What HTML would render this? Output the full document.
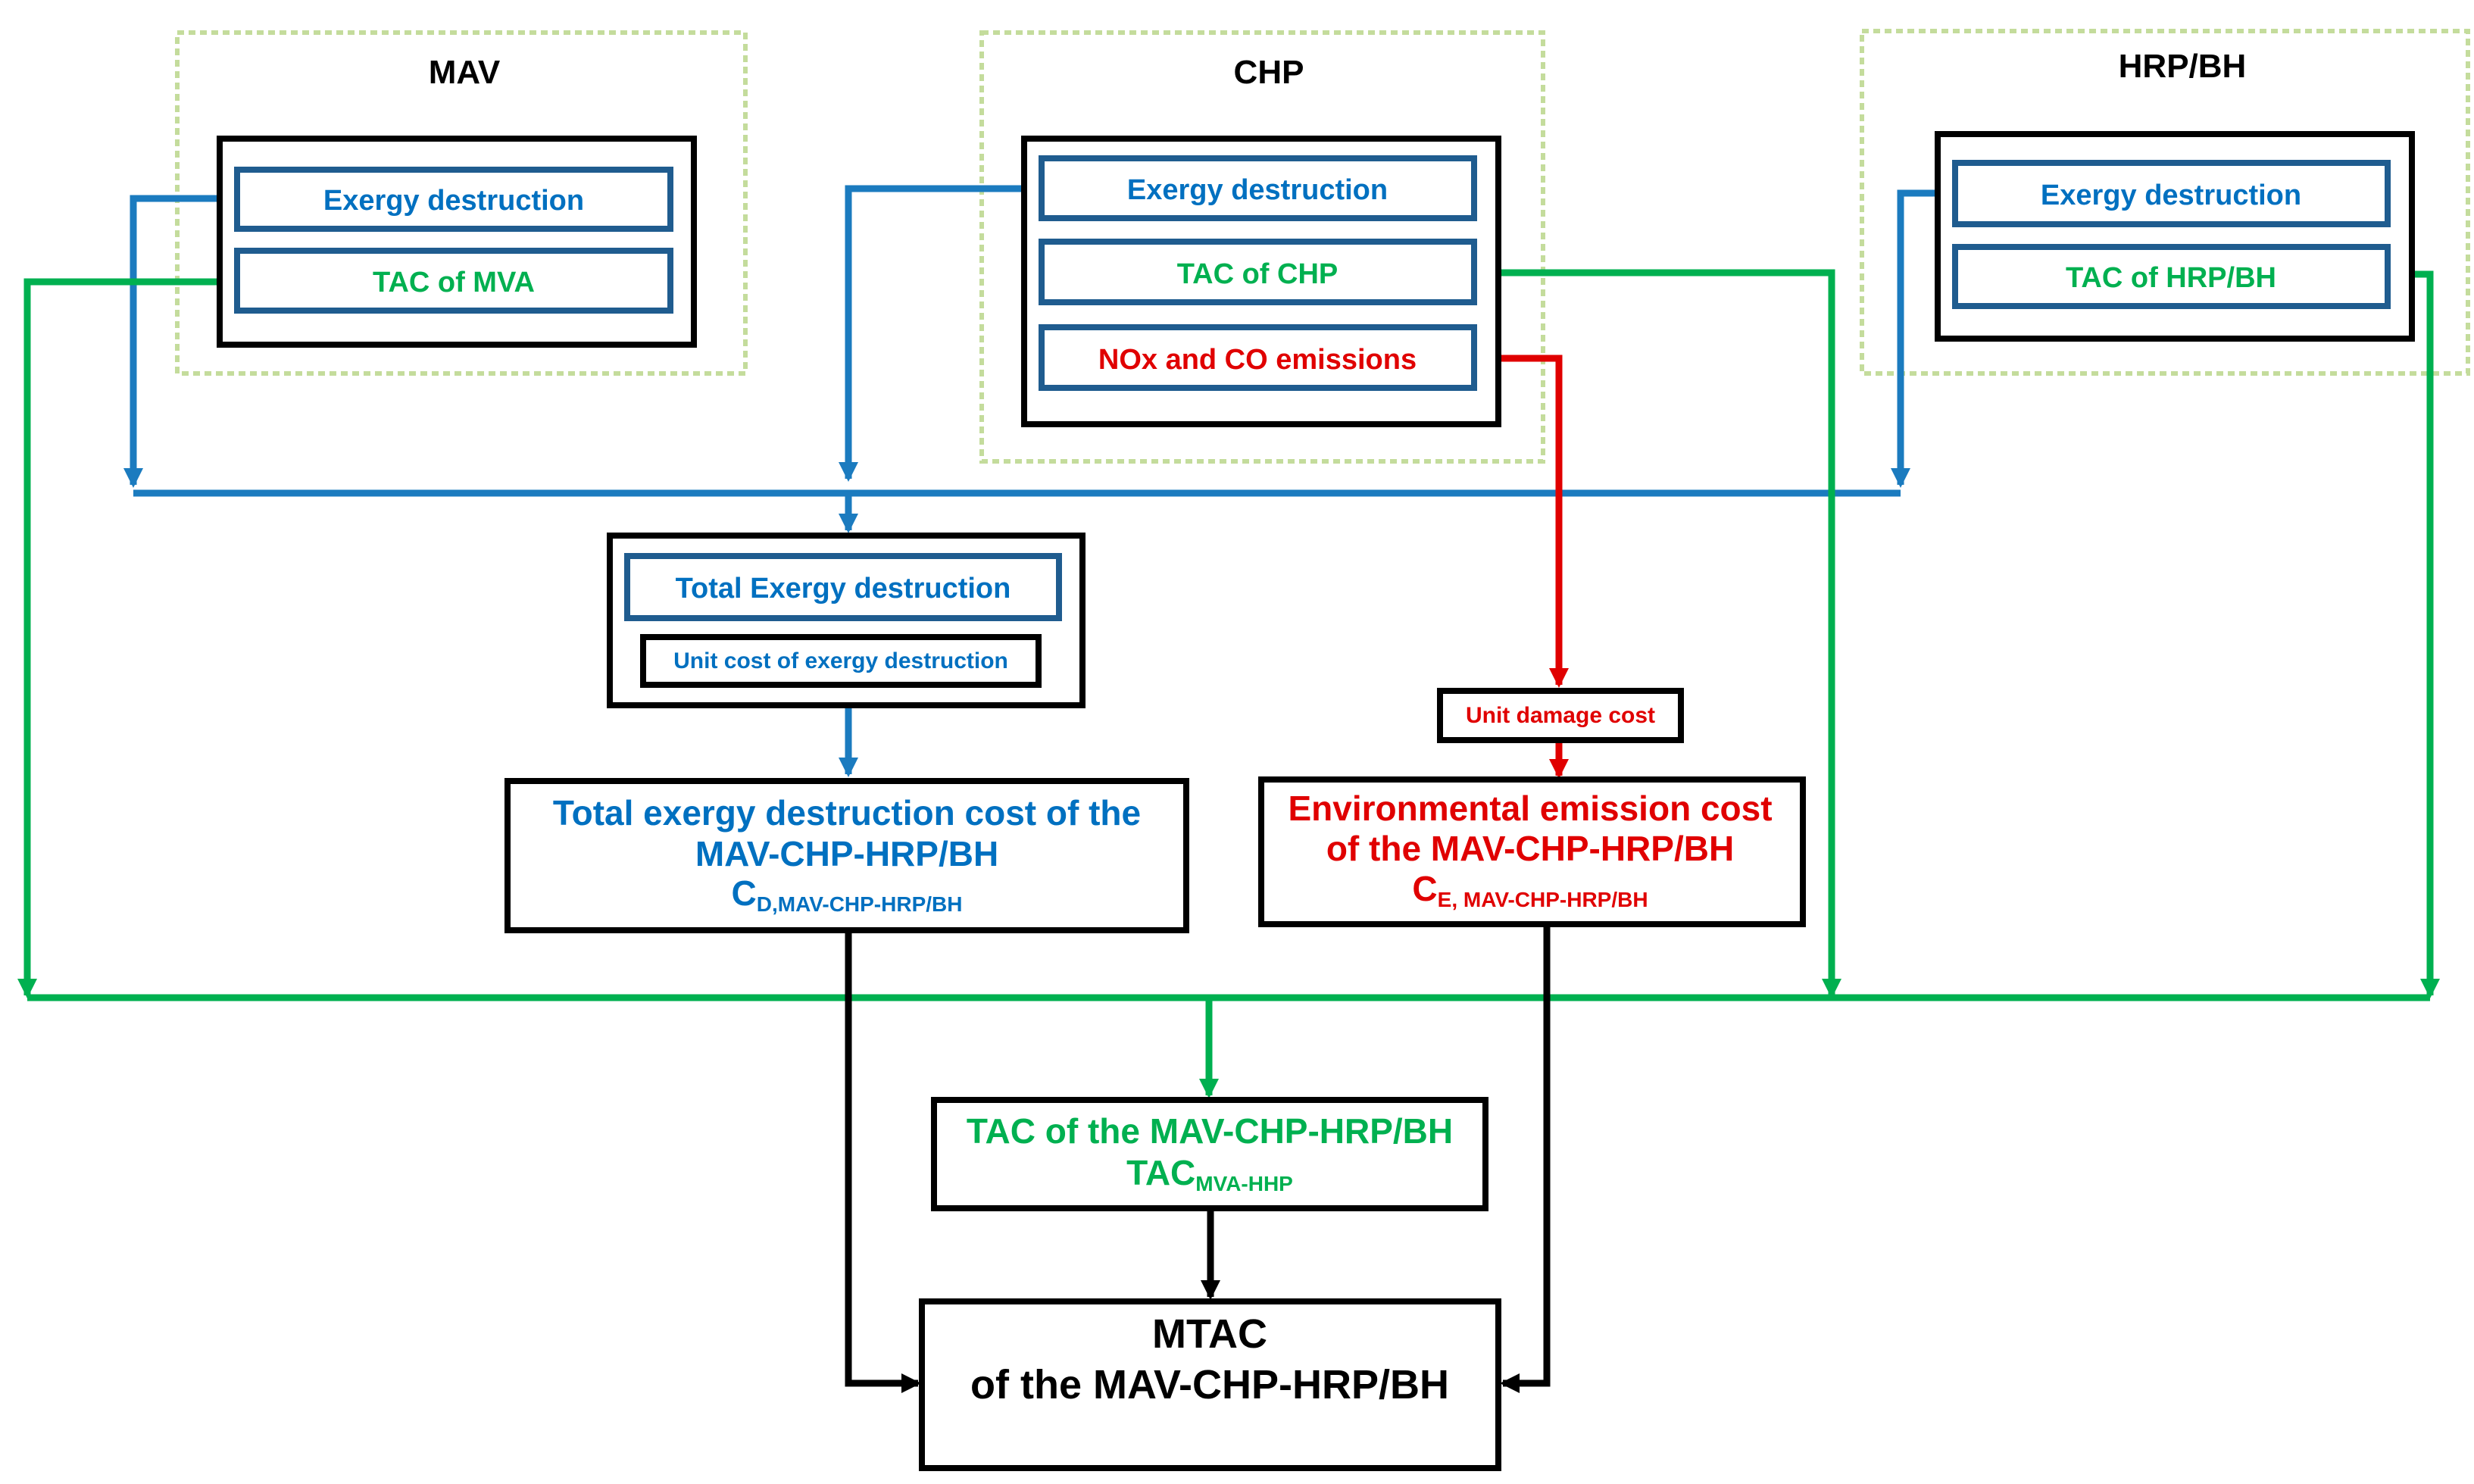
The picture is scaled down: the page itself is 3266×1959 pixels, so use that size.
<!DOCTYPE html>
<html><head><meta charset="utf-8"><style>
html,body{margin:0;padding:0;background:#fff;}
svg{display:block;}
text{font-family:"Liberation Sans Narrow","Liberation Sans",sans-serif;font-weight:bold;text-anchor:middle;}
</style></head><body>
<svg width="3266" height="1959" viewBox="0 0 3266 1959" xmlns="http://www.w3.org/2000/svg">
<defs>
<marker id="ab" markerWidth="28" markerHeight="28" refX="22" refY="13" orient="auto" markerUnits="userSpaceOnUse"><path d="M0,0 L26,13 L0,26 z" fill="#1b7bbf"/></marker>
<marker id="ag" markerWidth="28" markerHeight="28" refX="22" refY="13" orient="auto" markerUnits="userSpaceOnUse"><path d="M0,0 L26,13 L0,26 z" fill="#00b050"/></marker>
<marker id="ar" markerWidth="28" markerHeight="28" refX="22" refY="13" orient="auto" markerUnits="userSpaceOnUse"><path d="M0,0 L26,13 L0,26 z" fill="#e00000"/></marker>
<marker id="ak" markerWidth="28" markerHeight="28" refX="22" refY="13" orient="auto" markerUnits="userSpaceOnUse"><path d="M0,0 L26,13 L0,26 z" fill="#000"/></marker>
</defs>
<g fill="none" stroke="#c4dc9c" stroke-width="6" stroke-dasharray="9,6">
<rect x="234" y="43" width="750" height="450"/>
<rect x="1296" y="43" width="741" height="566"/>
<rect x="2458" y="41" width="800" height="452"/>
</g>
<g font-size="44" fill="#000">
<text x="613" y="110" style="font-family:'Liberation Sans',sans-serif">MAV</text>
<text x="1675" y="110" style="font-family:'Liberation Sans',sans-serif">CHP</text>
<text x="2881" y="102" style="font-family:'Liberation Sans',sans-serif">HRP/BH</text>
</g>
<g fill="none" stroke-width="9">
<polyline points="312,262 176,262 176,640" stroke="#1b7bbf" marker-end="url(#ab)"/>
<polyline points="1374,249 1120,249 1120,632" stroke="#1b7bbf" marker-end="url(#ab)"/>
<polyline points="2580,255 2509,255 2509,640" stroke="#1b7bbf" marker-end="url(#ab)"/>
<line x1="176" y1="651" x2="2509" y2="651" stroke="#1b7bbf"/>
<line x1="1120" y1="651" x2="1120" y2="700" stroke="#1b7bbf" marker-end="url(#ab)"/>
<line x1="1120" y1="932" x2="1120" y2="1022" stroke="#1b7bbf" marker-end="url(#ab)"/>
<polyline points="312,372 36,372 36,1314" stroke="#00b050" marker-end="url(#ag)"/>
<polyline points="1947,360 2418,360 2418,1314" stroke="#00b050" marker-end="url(#ag)"/>
<polyline points="3153,362 3208,362 3208,1314" stroke="#00b050" marker-end="url(#ag)"/>
<line x1="36" y1="1317" x2="3208" y2="1317" stroke="#00b050"/>
<line x1="1596" y1="1317" x2="1596" y2="1446" stroke="#00b050" marker-end="url(#ag)"/>
<polyline points="1947,473 2058,473 2058,904" stroke="#e00000" marker-end="url(#ar)"/>
<line x1="2058" y1="978" x2="2058" y2="1024" stroke="#e00000" marker-end="url(#ar)"/>
<polyline points="1120,1229 1120,1826 1212,1826" stroke="#000" marker-end="url(#ak)"/>
<polyline points="2042,1221 2042,1826 1984,1826" stroke="#000" marker-end="url(#ak)"/>
<line x1="1598" y1="1596" x2="1598" y2="1712" stroke="#000" marker-end="url(#ak)"/>
</g>
<g fill="#fff" stroke="#000" stroke-width="8">
<rect x="290" y="183" width="626" height="272"/>
<rect x="1352" y="183" width="626" height="377"/>
<rect x="2558" y="177" width="626" height="270"/>
<rect x="805" y="707" width="624" height="224"/>
<rect x="670" y="1031" width="896" height="197"/>
<rect x="1665" y="1029" width="715" height="191"/>
<rect x="1901" y="912" width="318" height="65"/>
<rect x="1233" y="1452" width="728" height="143"/>
<rect x="1217" y="1718" width="761" height="220"/>
<rect x="849" y="841" width="522" height="63"/>
</g>
<g fill="#fff" stroke="#1f5c8f" stroke-width="8">
<rect x="313" y="224" width="572" height="78"/>
<rect x="313" y="331" width="572" height="79"/>
<rect x="1375" y="209" width="571" height="79"/>
<rect x="1375" y="319" width="571" height="80"/>
<rect x="1375" y="432" width="571" height="80"/>
<rect x="2581" y="215" width="571" height="81"/>
<rect x="2581" y="326" width="571" height="78"/>
<rect x="828" y="734" width="570" height="82"/>
</g>
<g font-size="38">
<text x="599" y="277" fill="#0070c0">Exergy destruction</text>
<text x="599" y="385" fill="#00b050">TAC of MVA</text>
<text x="1660" y="263" fill="#0070c0">Exergy destruction</text>
<text x="1660" y="374" fill="#00b050">TAC of CHP</text>
<text x="1660" y="487" fill="#e00000">NOx and CO emissions</text>
<text x="2866" y="270" fill="#0070c0">Exergy destruction</text>
<text x="2866" y="379" fill="#00b050">TAC of HRP/BH</text>
<text x="1113" y="789" fill="#0070c0">Total Exergy destruction</text>
</g>
<text x="1110" y="882" font-size="30" fill="#0070c0">Unit cost of exergy destruction</text>
<text x="2060" y="954" font-size="30" fill="#e00000">Unit damage cost</text>
<g font-size="46">
<text x="1118" y="1089" fill="#0070c0">Total exergy destruction cost  of the</text>
<text x="1118" y="1143" fill="#0070c0">MAV-CHP-HRP/BH</text>
<text x="1118" y="1195" fill="#0070c0">C<tspan font-size="28" dy="8">D,MAV-CHP-HRP/BH</tspan></text>
<text x="2020" y="1083" fill="#e00000">Environmental emission cost</text>
<text x="2020" y="1136" fill="#e00000">of the MAV-CHP-HRP/BH</text>
<text x="2020" y="1189" fill="#e00000">C<tspan font-size="28" dy="8">E,  MAV-CHP-HRP/BH</tspan></text>
<text x="1597" y="1509" fill="#00b050">TAC of the MAV-CHP-HRP/BH</text>
<text x="1597" y="1564" fill="#00b050">TAC<tspan font-size="28" dy="8">MVA-HHP</tspan></text>
</g>
<g font-size="54" fill="#000">
<text x="1597" y="1779">MTAC</text>
<text x="1597" y="1846">of the MAV-CHP-HRP/BH</text>
</g>
</svg>
</body></html>
